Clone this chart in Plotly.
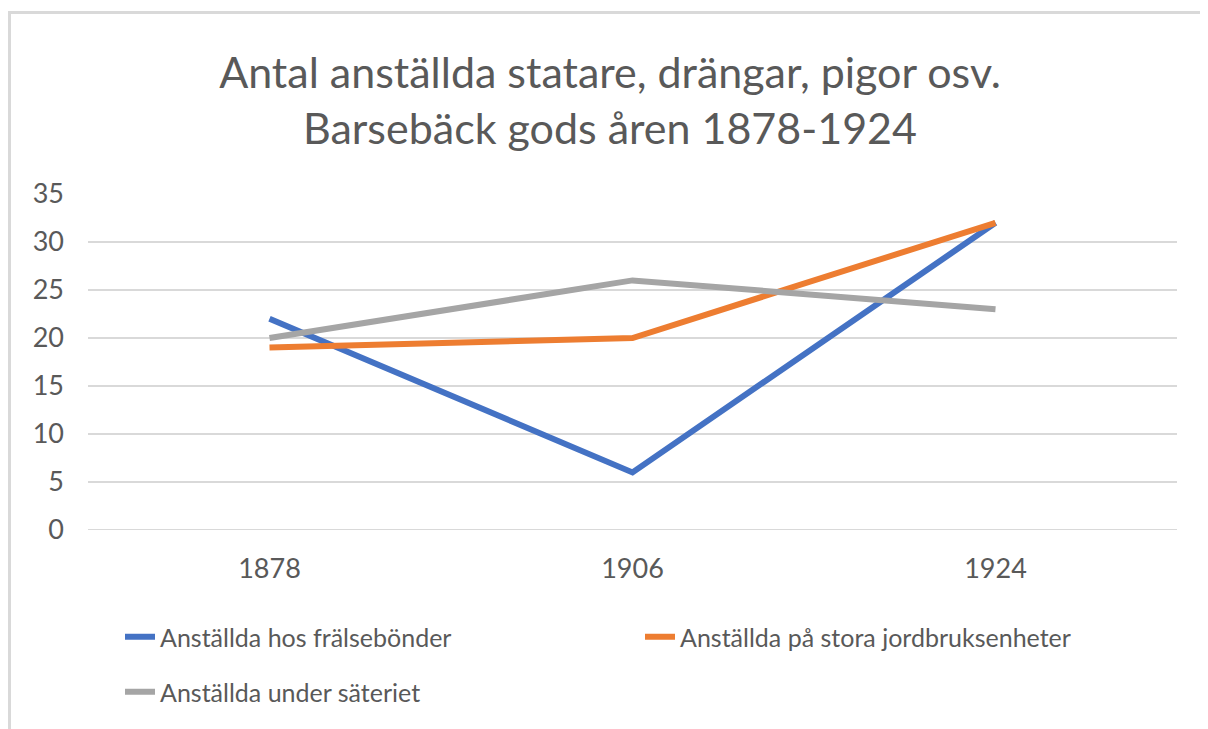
import plotly.graph_objects as go

years = ["1878", "1906", "1924"]
fralsebonder = [22, 6, 32]
stora_jordbruk = [19, 20, 32]
sateriet = [20, 26, 23]

series_names = [
    "Anställda hos frälsebönder",
    "Anställda på stora jordbruksenheter",
    "Anställda under säteriet",
]
colors = ["#4472C4", "#ED7D31", "#A5A5A5"]

FONT = "Lato"
GREY_TXT = "#595959"
# page body adds 8px margin; figure is sized so the window shows it fully
W, H = 1200, 721
L, R, T, B = 80, 31, 186, 199
PW, PH = W - L - R, H - T - B

fig = go.Figure()
legend_ids = ["legend", "legend2", "legend3"]
for name, vals, col, lg in zip(series_names, [fralsebonder, stora_jordbruk, sateriet], colors, legend_ids):
    fig.add_trace(go.Scatter(
        x=years, y=vals, name=name, mode="lines",
        line=dict(color=col, width=6), legend=lg,
    ))

def legend_box(x_px, y_px):
    return dict(
        xref="paper", yref="paper", orientation="h",
        x=(x_px - L) / PW, y=(T + PH - y_px) / PH, xanchor="left", yanchor="middle",
        font=dict(family=FONT, size=25, color=GREY_TXT),
        bgcolor="rgba(0,0,0,0)", borderwidth=0,
    )

fig.update_layout(
    width=W, height=H,
    paper_bgcolor="white", plot_bgcolor="white",
    margin=dict(l=L, r=R, t=T, b=B),
    title=dict(
        text="Antal anställda statare, drängar, pigor osv.<br>Barsebäck gods åren 1878-1924",
        x=602 / W, xanchor="center", y=1 - 80 / H, yanchor="middle",
        font=dict(family=FONT, size=43, color=GREY_TXT),
    ),
    font=dict(family=FONT, color=GREY_TXT),
    showlegend=True,
    legend=legend_box(112, 629),
    legend2=legend_box(632, 629),
    legend3=legend_box(112, 684),
)
fig.update_xaxes(
    type="category", range=[-0.5, 2.5],
    showgrid=False, showline=False, zeroline=False,
    ticks="", ticklabelstandoff=20,
    tickfont=dict(family=FONT, size=27, color=GREY_TXT),
)
fig.update_yaxes(
    range=[0, 35], dtick=5, tick0=0,
    showgrid=True, gridcolor="#D9D9D9", gridwidth=2,
    zeroline=False, showline=False, ticks="",
    ticklabelstandoff=23,
    tickfont=dict(family=FONT, size=27, color=GREY_TXT),
)
# baseline gridline at 0 (plotly skips grid at the range edge)
fig.add_shape(type="line", xref="paper", yref="y", x0=0, x1=1, y0=0, y1=0,
              line=dict(color="#D9D9D9", width=2), layer="below")
# chart-area border (left and top edges visible)
fig.add_shape(type="rect", xref="paper", yref="paper",
              x0=(1.5 - L) / PW, x1=1.5, y0=-1.0, y1=(PH + T - 4.5) / PH,
              line=dict(color="#D9D9D9", width=3), fillcolor="rgba(0,0,0,0)", layer="below")

fig.write_html("out.html")
